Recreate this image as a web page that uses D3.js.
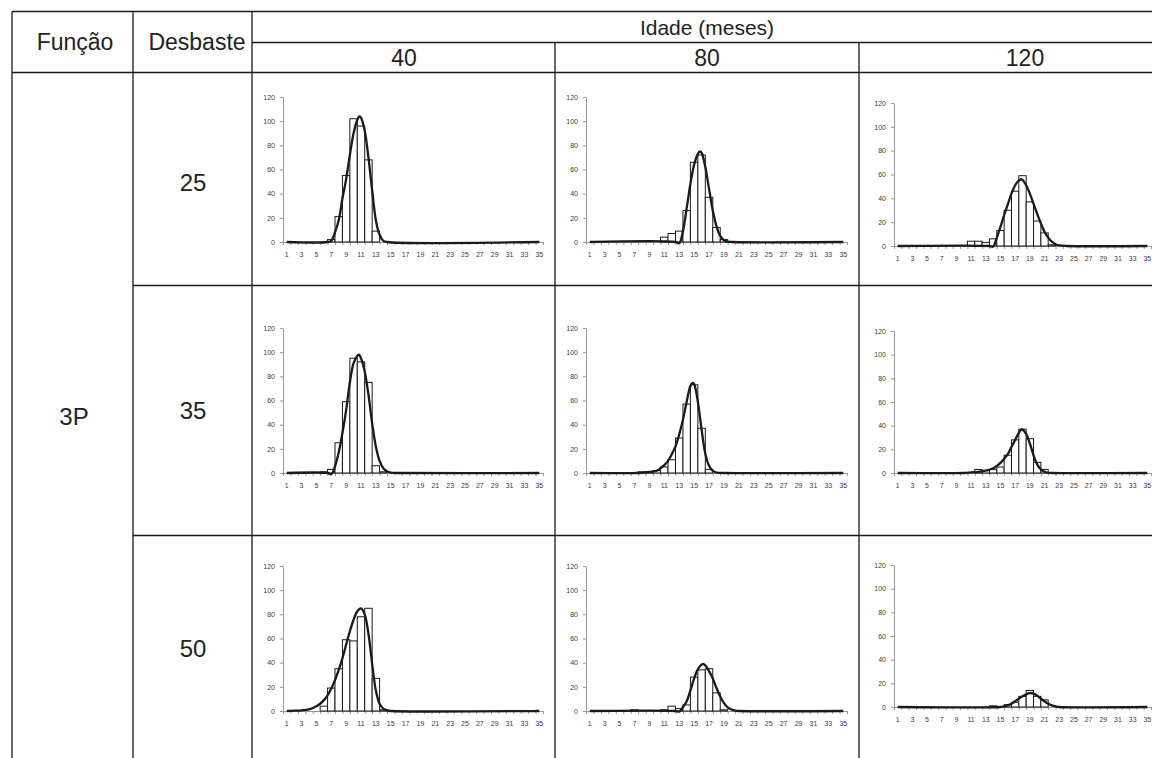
<!DOCTYPE html>
<html>
<head>
<meta charset="utf-8">
<script src="https://cdn.jsdelivr.net/npm/d3@7"></script>
<style>
  body { margin: 0; background: #fff; }
  svg { display: block; font-family: 'Liberation Sans', Arial, sans-serif; }
  .axis path, .axis line { stroke: #999; stroke-width: 1; }
  .axis text { fill: #3a3a3a; font-size: 7px; font-family: 'Liberation Sans', Arial, sans-serif; }
  .axis { opacity: 0.99; }
</style>
</head>
<body>
<svg id="chart" width="1152" height="758"></svg>
<script>
// table headers
const funcao = '3P';
const desbastes = ['25', '35', '50'];
const idades = ['40', '80', '120'];

// diameter classes on the x axis, labels every other class
const classes = d3.range(1, 36);
const xLabels = [1, 3, 5, 7, 9, 11, 13, 15, 17, 19, 21, 23, 25, 27, 29, 31, 33, 35];
const yTicks = [0, 20, 40, 60, 80, 100, 120];

// observed frequencies per class (classes 1..35)
const b25_40 = [0, 0, 0, 0, 0, 0, 2, 21, 55, 102, 96, 68, 9, 0, 0, 0, 0, 0, 0, 0, 0, 0, 0, 0, 0, 0, 0, 0, 0, 0, 0, 0, 0, 0, 0];
const b25_80 = [0, 0, 0, 0, 0, 0, 0, 0, 0, 0, 4, 7, 9, 26, 66, 72, 37, 12, 2, 0, 0, 0, 0, 0, 0, 0, 0, 0, 0, 0, 0, 0, 0, 0, 0];
const b25_120 = [0, 0, 0, 0, 0, 0, 0, 0, 0, 0, 4, 4, 3, 6, 13, 30, 46, 59, 37, 21, 11, 1, 0, 0, 0, 0, 0, 0, 0, 0, 0, 0, 0, 0, 0];
const b35_40 = [0, 0, 0, 0, 0, 1, 3, 25, 59, 95, 92, 75, 6, 1, 0, 0, 0, 0, 0, 0, 0, 0, 0, 0, 0, 0, 0, 0, 0, 0, 0, 0, 0, 0, 0];
const b35_80 = [0, 0, 0, 0, 0, 0, 0, 1, 1, 2, 5, 11, 29, 57, 73, 37, 3, 0, 0, 0, 0, 0, 0, 0, 0, 0, 0, 0, 0, 0, 0, 0, 0, 0, 0];
const b35_120 = [0, 0, 0, 0, 0, 0, 0, 0, 0, 0, 0, 3, 2, 3, 5, 15, 28, 37, 29, 9, 3, 0, 0, 0, 0, 0, 0, 0, 0, 0, 0, 0, 0, 0, 0];
const b50_40 = [0, 0, 0, 0, 0, 4, 19, 35, 59, 58, 78, 85, 27, 1, 0, 0, 0, 0, 0, 0, 0, 0, 0, 0, 0, 0, 0, 0, 0, 0, 0, 0, 0, 0, 0];
const b50_80 = [0, 0, 0, 0, 0, 0, 1, 0, 0, 0, 1, 4, 2, 5, 28, 34, 35, 15, 1, 0, 0, 0, 0, 0, 0, 0, 0, 0, 0, 0, 0, 0, 0, 0, 0];
const b50_120 = [0, 0, 0, 0, 0, 0, 0, 0, 0, 0, 0, 0, 0, 1, 0, 2, 4, 9, 14, 9, 6, 0, 0, 0, 0, 0, 0, 0, 0, 0, 0, 0, 0, 0, 0];

// fitted curve as [class, frequency]
const c25_40 = [[1, 0], [6.5, 0], [7, 1], [7.5, 8], [8, 18], [8.5, 36], [9, 52], [9.5, 72], [10, 90], [10.5, 101],
  [10.8, 104], [11, 103], [11.5, 92], [12, 70], [12.5, 43], [13, 18], [13.5, 6], [14, 1], [14.5, 0], [35, 0]];
const c25_80 = [[1, 0], [12.5, 0], [13, -1], [13.5, 9], [14, 28], [14.5, 48], [15, 64], [15.5, 73], [15.8, 75],
  [16, 74], [16.5, 62], [17, 44], [17.5, 26], [18, 13], [18.5, 5], [19, 1.5], [19.5, 0.3], [20, 0], [35, 0]];
const c25_120 = [[1, 0], [13.5, 0], [14, -0.5], [14.5, 7], [15, 16], [15.5, 26], [16, 35], [16.5, 44], [17, 51],
  [17.5, 55], [17.8, 56], [18, 55.5], [18.5, 51], [19, 44], [19.5, 35.5], [20, 27], [20.5, 19], [21, 12],
  [21.5, 7], [22, 3.6], [22.5, 1.5], [23, 0.5], [24, 0], [35, 0]];
const c35_40 = [[1, 0], [6.5, 0], [7, -1], [7.5, 5.5], [8, 17], [8.5, 33], [9, 52], [9.5, 75], [10, 91], [10.5, 97],
  [10.7, 98], [11, 95], [11.5, 84], [12, 65], [12.5, 41], [13, 22], [13.5, 10], [14, 4], [14.5, 1.4], [15, 0.3],
  [16, 0], [35, 0]];
const c35_80 = [[1, 0], [7.5, 0], [8, 0.3], [9, 1], [10, 2], [10.5, 4], [11, 6.5], [11.5, 10], [12, 15.5], [12.5, 22],
  [13, 32], [13.5, 44], [14, 59], [14.5, 72], [14.8, 74.5], [15, 73.5], [15.5, 59], [16, 36], [16.5, 16], [17, 6],
  [17.5, 1.7], [18, 0.3], [19, 0], [35, 0]];
const c35_120 = [[1, 0], [10, 0], [11, 0.5], [12, 1], [13, 2], [14, 4], [14.5, 6], [15, 8.5], [15.5, 12], [16, 16],
  [16.5, 22], [17, 28], [17.5, 34], [17.9, 37], [18, 36.8], [18.5, 33], [19, 25], [19.5, 15], [20, 7.3],
  [20.5, 3], [21, 1], [21.5, 0.2], [22, 0], [35, 0]];
const c50_40 = [[1, 0], [2, 0.3], [3, 0.6], [4, 1.4], [5, 4], [5.5, 6], [6, 9], [6.5, 13], [7, 18.6], [7.5, 25.5],
  [8, 34], [8.5, 43.6], [9, 55], [9.5, 66], [10, 75.5], [10.5, 82.5], [11, 85], [11.5, 80], [12, 64], [12.5, 39],
  [13, 17], [13.5, 6], [14, 2], [14.5, 0.5], [15, 0], [35, 0]];
const c50_80 = [[1, 0], [12.5, 0], [13, -0.5], [13.5, 3.3], [14, 8], [14.5, 17], [15, 27], [15.5, 34.5], [16, 38.3],
  [16.2, 39], [16.5, 37.8], [17, 33], [17.5, 27], [18, 19], [18.5, 12], [19, 6.5], [19.5, 3], [20, 1.2],
  [20.5, 0.3], [21, 0], [35, 0]];
const c50_120 = [[1, 0], [15, 0], [15.5, 0.5], [16, 1.4], [16.5, 2.8], [17, 4.8], [17.5, 7], [18, 9], [18.5, 10.7],
  [19, 11.8], [19.5, 11.3], [20, 9.6], [20.5, 7], [21, 4.8], [21.5, 2.8], [22, 1.4], [22.5, 0.5], [23, 0], [35, 0]];

const barSeries = [[b25_40, b25_80, b25_120], [b35_40, b35_80, b35_120], [b50_40, b50_80, b50_120]];
const curveSeries = [[c25_40, c25_80, c25_120], [c35_40, c35_80, c35_120], [c50_40, c50_80, c50_120]];

/** panel placement (y-axis x, plot width, baseline y, plot height) */
const colX = [283, 586, 894];
const colW = [260, 261, 257];
const rowY0 = [[242, 242, 246], [473, 473, 473], [711, 711, 707]];
const rowH = [[145, 145, 143], [145, 145, 142], [145, 145, 142]];

const svg = d3.select('#chart');
const ink = '#1a1a1a';

/**
 * Draws one histogram with its fitted curve.
 */
const drawPanel = (bars, curve, box) => {
  const g = svg.append('g');
  const x = d3.scaleBand()
      .domain(classes)
      .range([box.x, box.x + box.w]);
  const xc = d3.scaleLinear()
      .domain([0.5, 35.5])
      .range([box.x, box.x + box.w]);
  const y = d3.scaleLinear()
      .domain([0, 120])
      .range([box.y0, box.y0 - box.h]);

  g.append('g')
      .attr('class', 'axis')
      .attr('transform', `translate(${box.x},0)`)
      .call(d3.axisLeft(y).tickValues(yTicks).tickSize(3).tickSizeOuter(0).tickPadding(5));

  g.append('g')
      .attr('class', 'axis')
      .attr('transform', `translate(0,${box.y0})`)
      .call(d3.axisBottom(xc).tickValues(d3.range(0.5, 36, 1)).tickSize(3).tickSizeOuter(0).tickFormat(''));

  const lab = g.append('g')
      .attr('class', 'axis')
      .attr('transform', `translate(0,${box.y0})`)
      .call(d3.axisBottom(x).tickValues(xLabels).tickSize(0).tickPadding(10));
  lab.select('.domain').remove();

  g.append('g')
      .selectAll('rect')
      .data(classes.filter((c) => bars[c - 1] > 0))
      .join('rect')
      .attr('x', (c) => x(c))
      .attr('y', (c) => y(bars[c - 1]))
      .attr('width', x.bandwidth())
      .attr('height', (c) => box.y0 - y(bars[c - 1]))
      .attr('fill', '#fff')
      .attr('stroke', ink)
      .attr('stroke-width', 1);

  const line = d3.line()
      .x((d) => xc(d[0]))
      .y((d) => y(d[1]))
      .curve(d3.curveCatmullRom.alpha(0.5));

  g.append('path')
      .attr('d', line(curve))
      .attr('fill', 'none')
      .attr('stroke', ink)
      .attr('stroke-width', 2.3);
};

desbastes.forEach((d, r) => {
  idades.forEach((a, c) => {
    drawPanel(barSeries[r][c], curveSeries[r][c], {
      x: colX[c], w: colW[c], y0: rowY0[r][c], h: rowH[r][c],
    });
  });
});

// table rules
const rules = [
  [12, 11.5, 1152, 11.5],
  [12, 11.5, 12, 758],
  [133, 11.5, 133, 758],
  [252, 11.5, 252, 758],
  [252, 42.5, 1152, 42.5],
  [555, 42.5, 555, 758],
  [859, 42.5, 859, 758],
  [12, 72.5, 1152, 72.5],
  [133, 285.5, 1152, 285.5],
  [133, 535.5, 1152, 535.5],
];
svg.append('g')
    .selectAll('line')
    .data(rules)
    .join('line')
    .attr('x1', (d) => d[0])
    .attr('y1', (d) => d[1])
    .attr('x2', (d) => d[2])
    .attr('y2', (d) => d[3])
    .attr('stroke', ink)
    .attr('stroke-width', 1.3);

const text = (s, x, y, size) => svg.append('text')
    .attr('x', x)
    .attr('y', y)
    .attr('text-anchor', 'middle')
    .attr('font-size', size)
    .attr('fill', '#222')
    .text(s);

text('Função', 75, 50, 23);
text('Desbaste', 197, 50, 23);
text('Idade (meses)', 707, 35, 21);
const headX = [404, 707, 1025];
idades.forEach((a, i) => text(a, headX[i], 66, 23));

const rowLabelY = [191, 419, 657];
desbastes.forEach((d, i) => text(d, 193, rowLabelY[i], 24));
text(funcao, 74, 425, 24);
</script>
</body>
</html>
